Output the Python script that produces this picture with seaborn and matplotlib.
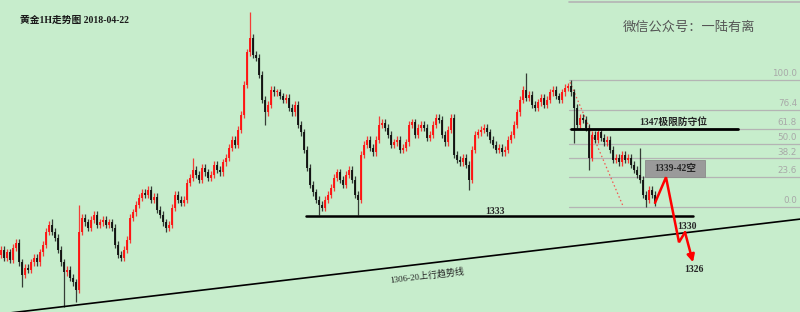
import matplotlib
matplotlib.use("Agg")
import matplotlib.pyplot as plt
import numpy as np
import pandas as pd
import seaborn as sns

# ---------------- data (gold, 1H candles, prices) ----------------
closes = [
    1327.6, 1326.3, 1327.2, 1326.0, 1327.9, 1328.7, 1325.6, 1323.6, 1324.7, 1324.4, 1325.6, 1326.3, 1325.6, 1327.2,
    1328.4, 1330.5, 1331.6, 1330.5, 1329.5, 1327.6, 1325.6, 1324.0, 1324.4, 1323.1, 1322.4, 1321.2,
    1330.5, 1332.7, 1332.0, 1331.1, 1332.4, 1333.2, 1331.6, 1332.0, 1332.4, 1331.6, 1332.0, 1331.1, 1328.4, 1326.8,
    1326.3, 1327.6, 1329.2, 1332.7, 1333.6, 1334.8,
    1335.9, 1336.7, 1336.4, 1337.2, 1335.6, 1336.1, 1334.0, 1333.2, 1332.0, 1331.1,
    1331.6, 1334.3, 1336.4, 1335.6, 1335.1, 1335.6, 1338.3, 1339.1, 1340.4, 1339.6,
    1338.8, 1340.7, 1340.0, 1339.1, 1339.6, 1341.2, 1340.4, 1340.0, 1341.6, 1342.3,
    1343.9, 1345.2, 1344.4, 1346.8, 1349.2, 1354.0, 1359.2, 1361.5, 1358.8, 1358.3,
    1355.6, 1351.6, 1349.6, 1350.8, 1353.2, 1352.8, 1352.8, 1352.2, 1351.6, 1351.9,
    1350.3, 1349.6, 1350.8, 1347.6, 1346.4, 1343.6, 1340.7, 1338.0, 1336.8, 1335.6,
    1334.8, 1334.3, 1335.6, 1336.4, 1337.5, 1339.1, 1340.0, 1338.8, 1338.0, 1339.6,
    1340.4, 1338.8, 1336.4, 1335.6, 1342.8, 1344.4, 1345.2, 1343.9, 1343.2, 1345.2,
    1347.6, 1347.9, 1347.1, 1346.0, 1344.4, 1344.8, 1345.2, 1343.6, 1343.9, 1344.8,
    1347.6, 1348.0, 1346.0, 1347.1, 1347.6, 1347.1, 1345.5, 1346.0, 1347.6, 1348.7,
    1348.4, 1346.0, 1344.8, 1346.8, 1348.7, 1342.8, 1342.0, 1341.6, 1342.3, 1341.2,
    1338.8, 1343.6, 1346.0, 1346.4, 1346.8, 1347.1, 1346.4, 1345.2, 1344.4, 1343.6,
    1343.9, 1343.2, 1343.6, 1345.2, 1346.0, 1347.6, 1349.6, 1351.6, 1353.2, 1351.9,
    1352.4, 1350.8, 1350.3, 1351.2, 1351.9, 1350.8, 1351.6, 1352.8, 1353.2, 1352.2,
    1351.6, 1352.8, 1353.5, 1353.8, 1352.8, 1350.3, 1347.6, 1348.7, 1348.4, 1347.1,
    1342.3, 1346.0, 1345.2, 1346.4, 1345.5, 1344.8, 1345.2, 1343.6, 1342.0, 1342.3,
    1341.6, 1342.8, 1342.0, 1342.3, 1341.2, 1340.4, 1339.6, 1338.8, 1336.4, 1335.6,
    1337.2, 1336.4, 1335.1,
]
first_open = 1326.8
high_spikes = {17: 1332.6, 26: 1334.8, 64: 1342.3, 83: 1365.6, 126: 1349.0,
               175: 1355.9, 190: 1354.8, 213: 1343.9}
low_spikes = {7: 1321.6, 21: 1318.4, 25: 1319.2, 55: 1330.4, 88: 1347.6, 106: 1333.2,
              119: 1333.2, 156: 1337.2, 191: 1344.7, 196: 1340.4, 215: 1334.4}
wick = 0.55

fib_p0, fib_p100 = 1334.44, 1354.76
fib_levels = [0.0, 23.6, 38.2, 50.0, 61.8, 76.4, 100.0]
support = 1333
resistance = 1347
short_zone = (1339.24, 1341.96)
path_prices = [1335.1, 1339.2, 1328.8, 1330.4, 1325.6]
trend_prices = (1317.3, 1332.5)

title = "黄金1H走势图 2018-04-22"
watermark = "微信公众号：一陆有离"

# ---------------- style ----------------
bg = "#C7EDCC"
sns.set_theme(style="white", rc={"axes.facecolor": bg, "figure.facecolor": bg})
plt.rcParams["font.family"] = ["Noto Sans CJK SC", "DejaVu Sans"]

fig = plt.figure(figsize=(8, 3.12), dpi=100)
ax = fig.add_axes([0, 0, 1, 1])
ax.set_facecolor(bg)
X0 = -1 / 3
ax.set_xlim(X0, X0 + 800 / 3)
ax.set_ylim(1367.56 - 0.16 * 312, 1367.56)
ax.axis("off")

def P(px, py):
    """pixel position of an annotation -> data coords"""
    return (px - 1) / 3, 1367.56 - 0.16 * py

df = pd.DataFrame({"close": closes})
df["open"] = [first_open] + closes[:-1]
df["x"] = np.arange(len(df))
df["high"] = df[["open", "close"]].max(axis=1) + wick
df["low"] = df[["open", "close"]].min(axis=1) - wick
for k, v in high_spikes.items():
    df.loc[k, "high"] = v
for k, v in low_spikes.items():
    df.loc[k, "low"] = v
df["up"] = df["close"] >= df["open"]
cols = np.where(df["up"], "#ff1010", "#101010")
bottom = df[["open", "close"]].min(axis=1)
height = (df["close"] - df["open"]).abs().clip(lower=0.15)

ax.vlines(df["x"], df["low"], df["high"], colors=cols, lw=0.9, alpha=0.8, zorder=3)
ax.bar(df["x"], height, bottom=bottom, width=0.72, color=cols, linewidth=0, alpha=0.92, zorder=3)

# fibonacci levels
fx0 = P(569, 0)[0]
fx1 = X0 + 800 / 3
for f in fib_levels:
    y = fib_p0 + f / 100 * (fib_p100 - fib_p0)
    ax.plot([fx0, fx1], [y, y], color="#b4b4b4", lw=0.9, zorder=1)
    ax.text(P(797, 0)[0], y + 0.25, f"{f:.1f}", ha="right", va="bottom",
            fontsize=6.3, color="#a8a8a8", family="DejaVu Sans", zorder=2)
ax.plot([fx0, fx1], [1367.3, 1367.3], color="#b4b4b4", lw=1.2, zorder=1)

# support / resistance
ax.plot([P(306, 0)[0], P(693, 0)[0]], [support, support], color="black", lw=1.8, zorder=4)
ax.text(*P(495, 211), "1333", ha="center", va="center", fontsize=7, fontweight="bold",
        family=["Liberation Serif", "Noto Sans CJK SC"], zorder=5)
ax.plot([P(571, 0)[0], P(738, 0)[0]], [resistance, resistance], color="black", lw=2.0, zorder=4)
ax.text(*P(673, 122), "1347极限防守位", ha="center", va="center", fontsize=7, fontweight="bold",
        family=["Liberation Serif", "Noto Sans CJK SC"], zorder=5)

# short zone box
bx0, _ = P(645, 0)
bx1, _ = P(705, 0)
ax.add_patch(plt.Rectangle((bx0, short_zone[0]), bx1 - bx0, short_zone[1] - short_zone[0],
                           facecolor="#9a9a9a", edgecolor="#8a8a8a", lw=0.6, zorder=5))
ax.text((bx0 + bx1) / 2, sum(short_zone) / 2, "1339-42空", ha="center", va="center",
        fontsize=7, fontweight="bold", family=["Liberation Serif", "Noto Sans CJK SC"], zorder=6)

# dotted guide
ax.plot([P(570, 0)[0], P(623, 0)[0]], [1354.4, 1334.6], color="#ff3030", lw=0.9,
        ls=(0, (1.2, 2.0)), alpha=0.8, zorder=2)

# trend line
ax.plot([X0, X0 + 800 / 3], list(trend_prices), color="black", lw=1.2, zorder=4)
ang = np.degrees(np.arctan(93 / 782))
ax.text(*P(427, 276), "1306-20上行趋势线", ha="center", va="center", fontsize=6.5,
        rotation=ang, color="#222222", family=["Liberation Serif", "Noto Sans CJK SC"], zorder=5)

# projected path
path_x = [P(p, 0)[0] for p in (655, 666, 679, 685, 693)]
ax.plot(path_x[:-1], path_prices[:-1], color="#ff0000", lw=1.8, zorder=6, solid_joinstyle="miter")
ax.annotate("", xy=(path_x[-1], path_prices[-1]), xytext=(path_x[-2], path_prices[-2]),
            arrowprops=dict(arrowstyle="-|>", color="#ff0000", lw=1.8, mutation_scale=11,
                            shrinkA=0, shrinkB=0), zorder=6)
ax.text(*P(687, 227), "1330", ha="center", va="center", fontsize=7, fontweight="bold",
        family=["Liberation Serif"], zorder=7)
ax.text(*P(694, 269), "1326", ha="center", va="center", fontsize=7, fontweight="bold",
        family=["Liberation Serif"], zorder=7)

# titles
ax.text(*P(20, 20), title, ha="left", va="center", fontsize=7, fontweight="bold",
        color="#1a1a1a", family=["Liberation Serif", "Noto Sans CJK SC"], zorder=7)
ax.text(*P(689, 27), watermark, ha="center", va="center", fontsize=9.5,
        color="#555555", zorder=7)

fig.savefig("out.png", dpi=100, facecolor=bg)
